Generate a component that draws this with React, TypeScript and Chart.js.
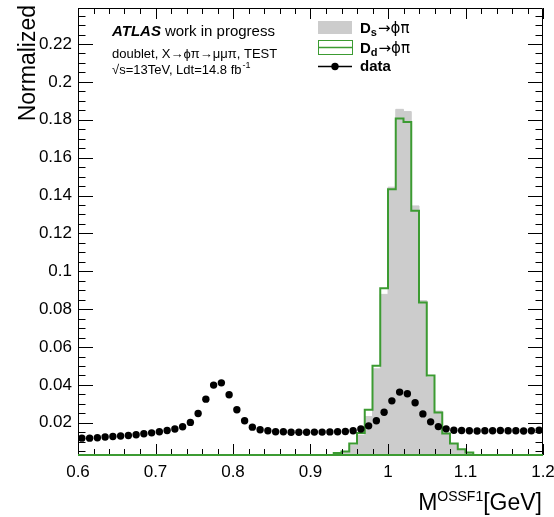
import { useEffect, useRef } from 'react';
import { Chart, registerables } from 'chart.js';

Chart.register(...registerables);

// ---------- data ----------
const dataMass = [
  0.605, 0.615, 0.625, 0.635, 0.645, 0.655, 0.665, 0.675, 0.685, 0.695,
  0.705, 0.715, 0.725, 0.735, 0.745, 0.755, 0.765, 0.775, 0.785, 0.795,
  0.805, 0.815, 0.825, 0.835, 0.845, 0.855, 0.865, 0.875, 0.885, 0.895,
  0.905, 0.915, 0.925, 0.935, 0.945, 0.955, 0.965, 0.975, 0.985, 0.995,
  1.005, 1.015, 1.025, 1.035, 1.045, 1.055, 1.065, 1.075, 1.085, 1.095,
  1.105, 1.115, 1.125, 1.135, 1.145, 1.155, 1.165, 1.175, 1.185, 1.195,
];
const dataNorm = [
  0.0119, 0.0119, 0.0121, 0.0125, 0.0128, 0.0130, 0.0133, 0.0137, 0.0142, 0.0147,
  0.0153, 0.0159, 0.0167, 0.0179, 0.0202, 0.0249, 0.0325, 0.0399, 0.0411, 0.0348,
  0.0269, 0.0211, 0.0177, 0.0163, 0.0158, 0.0153, 0.0153, 0.0150, 0.0150, 0.0150,
  0.0151, 0.0151, 0.0152, 0.0153, 0.0154, 0.0158, 0.0167, 0.0184, 0.0211, 0.0256,
  0.0316, 0.0362, 0.0353, 0.0306, 0.0247, 0.0205, 0.0180, 0.0168, 0.0161, 0.0159,
  0.0158, 0.0157, 0.0158, 0.0158, 0.0159, 0.0158, 0.0158, 0.0157, 0.0158, 0.0161,
];

// histogram bin edges (non-empty region) and contents
const histEdges = [
  0.93, 0.94, 0.95, 0.96, 0.97, 0.98, 0.99, 1.0, 1.01, 1.02,
  1.03, 1.04, 1.05, 1.06, 1.07, 1.08, 1.09, 1.1, 1.11,
];
const dsNorm = [
  0.0035, 0.0045, 0.0082, 0.0135, 0.0233, 0.0485, 0.0878, 0.1444, 0.1855,
  0.1843, 0.1345, 0.0845, 0.0440, 0.0262, 0.0146, 0.0090, 0.0060, 0.0040,
];
const ddNorm = [
  0.0040, 0.0049, 0.0091, 0.0146, 0.0269, 0.0501, 0.0911, 0.1433, 0.1806,
  0.1788, 0.1319, 0.0835, 0.0450, 0.0255, 0.0144, 0.0091, 0.0060, 0.0043,
];

const xTicks = [0.6, 0.7, 0.8, 0.9, 1.0, 1.1, 1.2];
const xTickLabels = ['0.6', '0.7', '0.8', '0.9', '1', '1.1', '1.2'];
const yTicks = [0.02, 0.04, 0.06, 0.08, 0.1, 0.12, 0.14, 0.16, 0.18, 0.2, 0.22];
const yTickLabels = ['0.02', '0.04', '0.06', '0.08', '0.1', '0.12', '0.14', '0.16', '0.18', '0.2', '0.22'];

const X_MIN = 0.6;
const X_MAX = 1.2;
const Y_MIN = 0.003;
const Y_MAX = 0.239;
const X_MINOR = 0.02;
const Y_MINOR = 0.005;

const GRAY = '#cccccc';
const GREEN = 'rgb(60,155,50)';
const FONT = '"Liberation Sans", Arial, Helvetica, sans-serif';
const SYM = '"DejaVu Sans", "Liberation Sans", sans-serif';

function stepPoints(edges: number[], vals: number[]) {
  const pts: { x: number; y: number }[] = [{ x: edges[0], y: 0 }];
  vals.forEach((v, i) => pts.push({ x: edges[i], y: v }));
  pts.push({ x: edges[edges.length - 1], y: 0 });
  return pts;
}

const framePlugin = {
  id: 'rootFrame',
  afterDatasetsDraw(chart: any) {
    const { ctx, chartArea } = chart;
    const { left, right, top, bottom } = chartArea;
    const xs = chart.scales.x;
    const ys = chart.scales.y;
    ctx.save();
    ctx.strokeStyle = '#000';
    ctx.lineWidth = 1;
    ctx.beginPath();
    ctx.moveTo(left + 0.5, bottom);
    ctx.lineTo(left + 0.5, top + 0.5);
    ctx.lineTo(right - 0.5, top + 0.5);
    ctx.lineTo(right - 0.5, bottom);
    ctx.stroke();
    // x ticks
    ctx.beginPath();
    const nx = Math.round((X_MAX - X_MIN) / X_MINOR);
    for (let k = 0; k <= nx; k++) {
      const v = X_MIN + k * X_MINOR;
      const major = xTicks.some((t) => Math.abs(t - v) < 1e-6);
      const len = major ? 11 : 6;
      const px = Math.round(xs.getPixelForValue(v)) + 0.5;
      ctx.moveTo(px, bottom);
      ctx.lineTo(px, bottom - len);
      ctx.moveTo(px, top);
      ctx.lineTo(px, top + len);
    }
    // y ticks
    const ny = Math.floor(Y_MAX / Y_MINOR);
    for (let k = 1; k <= ny; k++) {
      const v = k * Y_MINOR;
      if (v < Y_MIN) continue;
      const major = yTicks.some((t) => Math.abs(t - v) < 1e-6);
      const len = major ? 15 : 7.5;
      const py = Math.round(ys.getPixelForValue(v)) + 0.5;
      ctx.moveTo(left, py);
      ctx.lineTo(left + len, py);
      ctx.moveTo(right, py);
      ctx.lineTo(right - len, py);
    }
    ctx.stroke();
    // bottom edge (histogram baseline)
    ctx.strokeStyle = GREEN;
    ctx.lineWidth = 2;
    ctx.beginPath();
    ctx.moveTo(left, bottom);
    ctx.lineTo(right, bottom);
    ctx.stroke();
    ctx.restore();
  },
  afterDraw(chart: any) {
    const { ctx } = chart;
    ctx.save();
    ctx.fillStyle = '#000';
    ctx.textBaseline = 'alphabetic';
    ctx.textAlign = 'left';

    // y title
    ctx.save();
    ctx.translate(35, 5);
    ctx.rotate(-Math.PI / 2);
    ctx.textAlign = 'right';
    ctx.font = `23px ${FONT}`;
    ctx.fillText('Normalized', 0, 0);
    ctx.restore();

    // x title
    ctx.textAlign = 'right';
    ctx.font = `23px ${FONT}`;
    ctx.fillText('[GeV]', 542, 510);
    const wGeV = ctx.measureText('[GeV]').width;
    ctx.font = `14px ${FONT}`;
    ctx.fillText('OSSF1', 542 - wGeV, 501);
    const wSup = ctx.measureText('OSSF1').width;
    ctx.font = `23px ${FONT}`;
    ctx.fillText('M', 542 - wGeV - wSup, 510);
    ctx.textAlign = 'left';

    // ATLAS label
    ctx.font = `italic bold 15px ${FONT}`;
    ctx.fillText('ATLAS', 112, 36);
    const wA = ctx.measureText('ATLAS').width;
    ctx.font = `15px ${FONT}`;
    ctx.fillText('work in progress', 112 + wA + 4, 36);
    ctx.font = `13px ${FONT}`;
    ctx.fillText('doublet, X\u2192\u03d5\u03c0\u2192\u03bc\u03bc\u03c0, TEST', 112, 58);
    const lumi = '\u221as=13TeV, Ldt=14.8 fb';
    ctx.fillText(lumi, 112, 74);
    const wL = ctx.measureText(lumi).width;
    ctx.font = `9px ${FONT}`;
    ctx.fillText('-1', 112 + wL + 1, 68);

    // legend
    const bx = 318;
    const bw = 34;
    ctx.fillStyle = GRAY;
    ctx.fillRect(bx, 21, bw, 13);
    ctx.strokeStyle = GREEN;
    ctx.lineWidth = 1;
    ctx.strokeRect(bx + 0.5, 40.5, bw, 14);
    ctx.beginPath();
    ctx.moveTo(bx, 47.5);
    ctx.lineTo(bx + bw, 47.5);
    ctx.lineWidth = 1.5;
    ctx.stroke();
    ctx.strokeStyle = '#000';
    ctx.lineWidth = 1.5;
    ctx.beginPath();
    ctx.moveTo(bx, 66.5);
    ctx.lineTo(bx + bw, 66.5);
    ctx.stroke();
    ctx.fillStyle = '#000';
    ctx.beginPath();
    ctx.arc(bx + bw / 2, 66.5, 3.7, 0, Math.PI * 2);
    ctx.fill();

    const drawEntry = (sub: string, y: number) => {
      let x = 360;
      ctx.font = `bold 15px ${FONT}`;
      ctx.fillText('D', x, y);
      x += ctx.measureText('D').width;
      ctx.font = `bold 11px ${FONT}`;
      ctx.fillText(sub, x, y + 3);
      x += ctx.measureText(sub).width + 1;
      ctx.font = `15px ${SYM}`;
      ctx.fillText('\u2192\u03d5\u03c0', x, y);
    };
    drawEntry('s', 33);
    drawEntry('d', 52.5);
    ctx.font = `bold 15px ${FONT}`;
    ctx.fillText('data', 360, 71);
    ctx.restore();
  },
};

export default function App() {
  const ref = useRef<HTMLCanvasElement | null>(null);
  useEffect(() => {
    document.body.style.margin = '0';
    const canvas = ref.current;
    if (!canvas) return;
    const chart = new Chart(canvas, {
      type: 'line',
      data: {
        datasets: [
          {
            label: 'data',
            data: dataMass.map((x, i) => ({ x, y: dataNorm[i] })),
            showLine: false,
            pointRadius: 3.7,
            pointBackgroundColor: '#000',
            pointBorderWidth: 0,
            borderColor: '#000',
            order: 1,
          },
          {
            label: 'Dd',
            data: stepPoints(histEdges, ddNorm),
            stepped: 'before',
            fill: false,
            borderColor: GREEN,
            borderWidth: 2,
            pointRadius: 0,
            order: 2,
          },
          {
            label: 'Ds',
            data: stepPoints(histEdges, dsNorm),
            stepped: 'before',
            fill: 'start',
            backgroundColor: GRAY,
            borderColor: GRAY,
            borderWidth: 1,
            pointRadius: 0,
            order: 3,
          },
        ] as any,
      },
      options: {
        responsive: false,
        animation: false,
        events: [],
        layout: { padding: { top: 8, right: 11, left: 0, bottom: 0 } },
        plugins: { legend: { display: false }, tooltip: { enabled: false } },
        scales: {
          x: {
            type: 'linear',
            min: X_MIN,
            max: X_MAX,
            grid: { display: false, drawTicks: false },
            border: { display: false },
            afterBuildTicks: (s: any) => {
              s.ticks = xTicks.map((v) => ({ value: v }));
            },
            afterFit: (s: any) => {
              s.height = 62;
              s.paddingLeft = 0;
              s.paddingRight = 0;
            },
            ticks: {
              padding: 7,
              color: '#000',
              font: { family: FONT, size: 17 },
              maxRotation: 0,
              autoSkip: false,
              callback: (v: any) => {
                const i = xTicks.findIndex((t) => Math.abs(t - Number(v)) < 1e-6);
                return i >= 0 ? xTickLabels[i] : '';
              },
            },
          },
          y: {
            type: 'linear',
            min: Y_MIN,
            max: Y_MAX,
            grid: { display: false, drawTicks: false },
            border: { display: false },
            afterBuildTicks: (s: any) => {
              s.ticks = yTicks.map((v) => ({ value: v }));
            },
            afterFit: (s: any) => {
              s.width = 78;
              s.paddingTop = 0;
              s.paddingBottom = 0;
            },
            ticks: {
              padding: 6,
              color: '#000',
              font: { family: FONT, size: 17 },
              autoSkip: false,
              callback: (v: any) => {
                const i = yTicks.findIndex((t) => Math.abs(t - Number(v)) < 1e-6);
                return i >= 0 ? yTickLabels[i] : '';
              },
            },
          },
        },
      },
      plugins: [framePlugin],
    });
    return () => chart.destroy();
  }, []);
  return (
    <canvas
      ref={ref}
      width={554}
      height={517}
      style={{ display: 'block', width: 554, height: 517 }}
    />
  );
}
